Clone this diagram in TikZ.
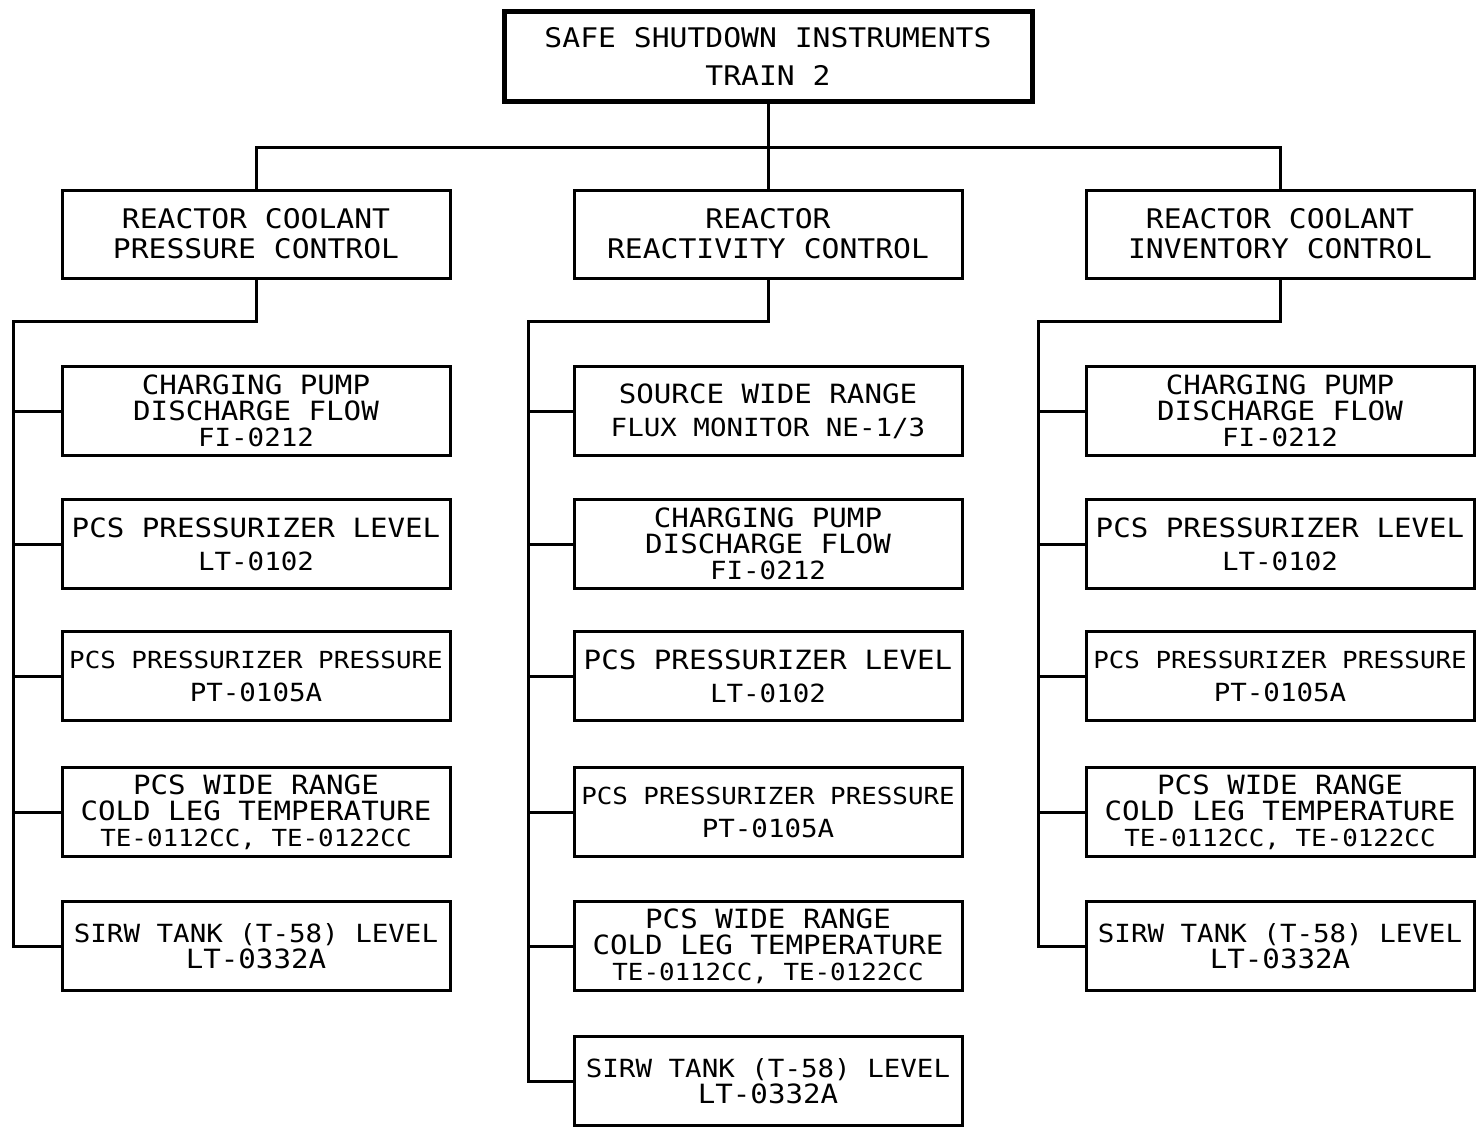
\documentclass[tikz,border=0pt]{standalone}
\usepackage{fontspec}
\newfontfamily\plotfont[FakeStretch=1.1]{DejaVu Sans Mono}
\newcommand\sm[1]{{\fontsize{25}{26}\selectfont #1}}
\newcommand\xs[1]{{\fontsize{23.5}{26}\selectfont #1}}
\begin{document}
\begin{tikzpicture}[x=1pt,y=-1pt,
  instbox/.style={draw, line width=3pt, inner sep=0pt, align=center,
    minimum width=388pt, minimum height=89pt},
  three/.style={font=\plotfont\fontsize{26.5}{26}\selectfont},
  two/.style={font=\plotfont\fontsize{26.5}{33}\selectfont},
  head/.style={draw, line width=3pt, inner sep=0pt, align=center,
    minimum width=388pt, minimum height=88pt, font=\plotfont\fontsize{27}{30}\selectfont},
  wire/.style={line width=3pt}]
\useasboundingbox (0,0) rectangle (1477,1128);

% top node
\node[draw, line width=5pt, inner sep=0pt, align=center, minimum width=528pt, minimum height=90pt,
  font=\plotfont\fontsize{27}{38}\selectfont] (top) at (768,56) {SAFE SHUTDOWN INSTRUMENTS\\TRAIN 2};

% second level
\node[head] (pc) at (256,234) {REACTOR COOLANT\\PRESSURE CONTROL};
\node[head] (rc) at (768,234) {REACTOR\\REACTIVITY CONTROL};
\node[head] (ic) at (1280,234) {REACTOR COOLANT\\INVENTORY CONTROL};

% left column
\node[instbox,three] (p1) at (256,411) {CHARGING PUMP\\DISCHARGE FLOW\\\sm{FI-0212}};
\node[instbox,two]   (p2) at (256,544) {PCS PRESSURIZER LEVEL\\\sm{LT-0102}};
\node[instbox,two]   (p3) at (256,676) {\xs{PCS PRESSURIZER PRESSURE}\\\sm{PT-0105A}};
\node[instbox,three] (p4) at (256,812) {PCS WIDE RANGE\\COLD LEG TEMPERATURE\\\xs{TE-0112CC, TE-0122CC}};
\node[instbox,three] (p5) at (256,946) {\sm{SIRW TANK (T-58) LEVEL}\\LT-0332A};

% middle column
\node[instbox,two]   (r1) at (768,411) {SOURCE WIDE RANGE\\\sm{FLUX MONITOR NE-1/3}};
\node[instbox,three] (r2) at (768,544) {CHARGING PUMP\\DISCHARGE FLOW\\\sm{FI-0212}};
\node[instbox,two]   (r3) at (768,676) {PCS PRESSURIZER LEVEL\\\sm{LT-0102}};
\node[instbox,two]   (r4) at (768,812) {\xs{PCS PRESSURIZER PRESSURE}\\\sm{PT-0105A}};
\node[instbox,three] (r5) at (768,946) {PCS WIDE RANGE\\COLD LEG TEMPERATURE\\\xs{TE-0112CC, TE-0122CC}};
\node[instbox,three] (r6) at (768,1081) {\sm{SIRW TANK (T-58) LEVEL}\\LT-0332A};

% right column
\node[instbox,three] (i1) at (1280,411) {CHARGING PUMP\\DISCHARGE FLOW\\\sm{FI-0212}};
\node[instbox,two]   (i2) at (1280,544) {PCS PRESSURIZER LEVEL\\\sm{LT-0102}};
\node[instbox,two]   (i3) at (1280,676) {\xs{PCS PRESSURIZER PRESSURE}\\\sm{PT-0105A}};
\node[instbox,three] (i4) at (1280,812) {PCS WIDE RANGE\\COLD LEG TEMPERATURE\\\xs{TE-0112CC, TE-0122CC}};
\node[instbox,three] (i5) at (1280,946) {\sm{SIRW TANK (T-58) LEVEL}\\LT-0332A};

% trunk lines
\coordinate (bus) at (768,147);
\coordinate (pt) at (13,321);
\coordinate (rt) at (528,321);
\coordinate (it) at (1038,321);

\draw[wire] (top.south) -- (rc.north);
\draw[wire] (pc.north) |- (bus) -| (ic.north);

\draw[wire] (pc.south) |- (pt) |- (p5.west);
\foreach \n in {p1,p2,p3,p4} \draw[wire] (pt |- \n.west) -- (\n.west);

\draw[wire] (rc.south) |- (rt) |- (r6.west);
\foreach \n in {r1,r2,r3,r4,r5} \draw[wire] (rt |- \n.west) -- (\n.west);

\draw[wire] (ic.south) |- (it) |- (i5.west);
\foreach \n in {i1,i2,i3,i4} \draw[wire] (it |- \n.west) -- (\n.west);
\end{tikzpicture}
\end{document}
